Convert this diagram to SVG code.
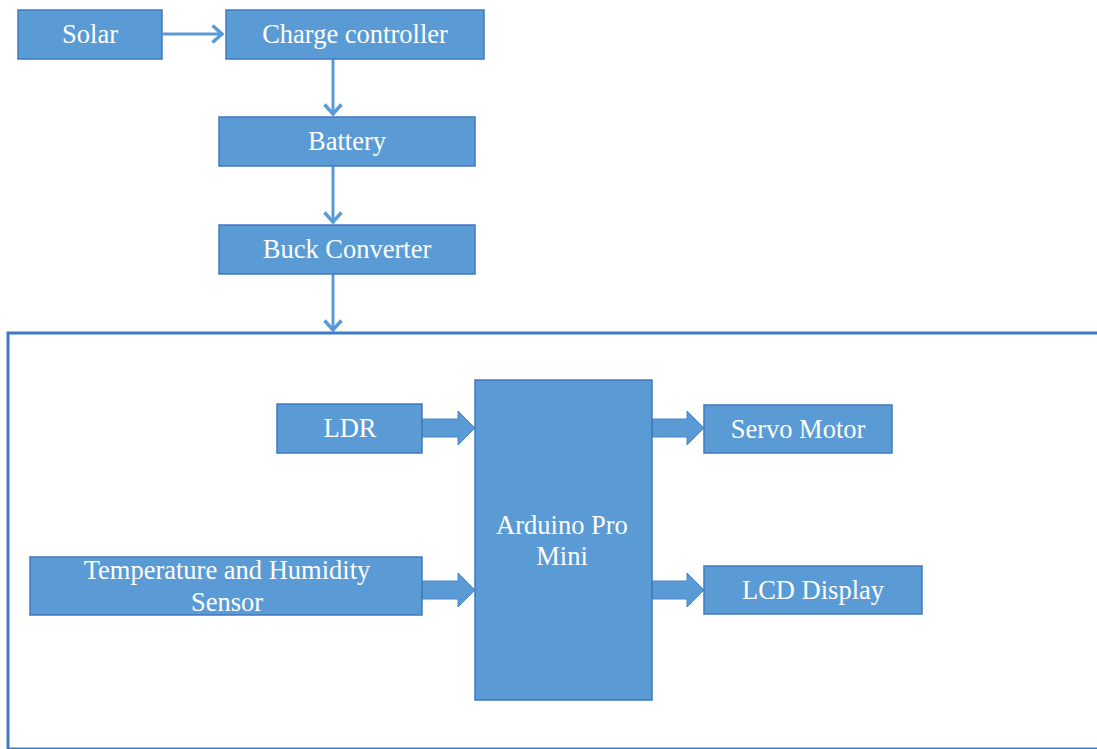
<svg xmlns="http://www.w3.org/2000/svg" width="1097" height="749" viewBox="0 0 1097 749">
<style>
.box{fill:#5b9bd5;stroke:#4178be;stroke-width:1.5}
.t{font-family:"Liberation Serif","Times New Roman",serif;font-size:26.5px;fill:#ffffff;text-anchor:middle}
.ln{stroke:#5b9bd5;stroke-width:3;fill:none}
.blk{fill:#5b9bd5;stroke:#4a86c8;stroke-width:1}
</style>
<defs>
<marker id="chev" viewBox="0 0 14 20" refX="12.5" refY="10" markerWidth="14" markerHeight="20" markerUnits="userSpaceOnUse" orient="auto">
<path d="M2,1.5 L11.5,10 L2,18.5" fill="none" stroke="#5b9bd5" stroke-width="3.5"/>
</marker>
</defs>
<rect x="0" y="0" width="1097" height="749" fill="#ffffff"/>
<g id="frame"><rect x="8" y="333" width="1100" height="416" fill="none" stroke="#3d7cc2" stroke-width="3"/></g>
<g id="connectors">
<line class="ln" x1="163" y1="34" x2="223" y2="34" marker-end="url(#chev)"/>
<line class="ln" x1="333" y1="59" x2="333" y2="115" marker-end="url(#chev)"/>
<line class="ln" x1="333" y1="166" x2="333" y2="223" marker-end="url(#chev)"/>
<line class="ln" x1="333" y1="274" x2="333" y2="331" marker-end="url(#chev)"/>
<path class="blk" d="M422,419 H458 V411 L475,428 L458,445 V437 H422 Z"/>
<path class="blk" d="M422,581 H458 V573 L475,590 L458,607 V599 H422 Z"/>
<path class="blk" d="M652,419 H687 V411 L704,428 L687,445 V437 H652 Z"/>
<path class="blk" d="M652,581 H687 V573 L704,590 L687,607 V599 H652 Z"/>
</g>
<g id="solar"><rect class="box" x="18" y="10" width="144" height="49"/><text class="t" x="90" y="43">Solar</text></g>
<g id="charge"><rect class="box" x="226" y="10" width="258" height="49"/><text class="t" x="355" y="43">Charge controller</text></g>
<g id="battery"><rect class="box" x="219" y="117" width="256" height="49"/><text class="t" x="347" y="150">Battery</text></g>
<g id="buck"><rect class="box" x="219" y="225" width="256" height="49"/><text class="t" x="347" y="258">Buck Converter</text></g>
<g id="ldr"><rect class="box" x="277" y="404" width="145" height="49"/><text class="t" x="350" y="437">LDR</text></g>
<g id="temp"><rect class="box" x="30" y="557" width="392" height="58"/><text class="t" x="227" y="579">Temperature and Humidity</text><text class="t" x="227" y="611">Sensor</text></g>
<g id="arduino"><rect class="box" x="475" y="380" width="177" height="320"/><text class="t" x="562" y="534">Arduino Pro</text><text class="t" x="562" y="565">Mini</text></g>
<g id="servo"><rect class="box" x="704" y="405" width="188" height="48"/><text class="t" x="798" y="438">Servo Motor</text></g>
<g id="lcd"><rect class="box" x="704" y="566" width="218" height="48"/><text class="t" x="813" y="599">LCD Display</text></g>
</svg>
